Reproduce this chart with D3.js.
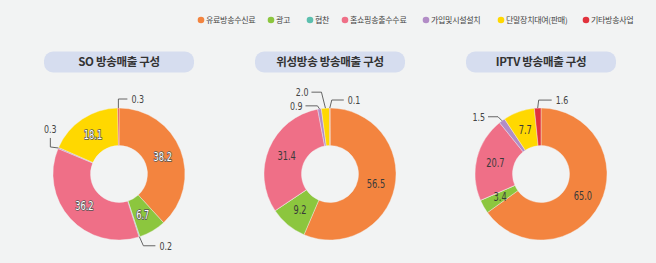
<!DOCTYPE html>
<html>
<head>
<meta charset="utf-8">
<script src="https://cdn.jsdelivr.net/npm/d3@7"></script>
<style>
  html, body { margin: 0; padding: 0; background: #f2f3f3; }
  #chart { width: 656px; height: 263px; }
</style>
</head>
<body>
<div id="chart"></div>
<script>
// 항목 / 색상
const categories = ['유료방송수신료', '광고', '협찬', '홈쇼핑송출수수료', '가입및시설설치', '단말장치대여(판매)', '기타방송사업'];
const colors = ['#f3843f', '#8cc63e', '#5cbfae', '#ef6f87', '#b28cc6', '#ffd800', '#e1323c'];

// 차트별 제목과 값 (%)
const chartTitles = ['SO 방송매출 구성', '위성방송 방송매출 구성', 'IPTV 방송매출 구성'];
const soValues = [38.2, 6.7, 0.2, 36.2, 0.3, 18.1, 0.3];
const satValues = [56.5, 9.2, 0, 31.4, 0.9, 2.0, 0.1];
const iptvValues = [65.0, 3.4, 0, 20.7, 1.5, 7.7, 1.6];

// 작은 조각의 지시선 모양 (bend: 첫 꺾임, end: 끝점, side: 글자 위치)
const leaders = [
  { 6: { bend: [0, -9], end: [9, 0], side: 'right' },
    4: { bend: [-8, -1], end: [0, -9], side: 'top' },
    2: { bend: [4, 9], end: [12, 0], side: 'right' } },
  { 6: { bend: [2, -8], end: [12, 0], side: 'right' },
    5: { bend: [-4, -16], end: [-10, 0], side: 'left' },
    4: { bend: [-2, -3], end: [-12, 0], side: 'left' } },
  { 6: { bend: [1, -8], end: [13, 0], side: 'right' },
    4: { bend: [-4, -4], end: [-10, 0], side: 'left' } },
];

const width = 656;
const height = 263;
const centers = [119, 330, 541]; // 각 도넛 중심 x
const cy = 174;
const outerR = 66;
const innerR = 28.5;
const narrow = 0.8; // 숫자 글꼴 가로 축소
const numFont = "'DejaVu Sans Condensed', 'Roboto', sans-serif";
const krFont = "'Noto Sans CJK KR', 'Noto Sans', sans-serif";

const svg = d3.select('#chart')
  .append('svg')
  .attr('width', width)
  .attr('height', height)
  .attr('viewBox', `0 0 ${width} ${height}`);

// 범례
const legendX = [201, 271, 310, 345, 426, 501, 586];
const legend = svg.append('g').attr('transform', 'translate(0, 20)');
const legendItem = legend.selectAll('g')
  .data(categories)
  .enter()
  .append('g')
  .attr('transform', (d, i) => `translate(${legendX[i]}, 0)`);
legendItem.append('circle')
  .attr('r', 3.3)
  .attr('fill', (d, i) => colors[i]);
legendItem.append('text')
  .attr('x', 5)
  .attr('dy', '0.35em')
  .text((d) => d)
  .style('font-family', krFont)
  .style('font-size', '8px')
  .style('letter-spacing', '-0.3px')
  .attr('fill', '#444');

const pie = d3.pie().sort(null).value((d) => d);
const arc = d3.arc().innerRadius(innerR).outerRadius(outerR);
const labelArc = d3.arc().innerRadius(47).outerRadius(47);
const edgeArc = d3.arc().innerRadius(outerR).outerRadius(outerR);

[soValues, satValues, iptvValues].forEach((values, ci) => {
  const cx = centers[ci];

  // 제목 pill
  const title = svg.append('g').attr('transform', `translate(${cx}, 62)`);
  title.append('rect')
    .attr('x', -75)
    .attr('y', -10.5)
    .attr('width', 150)
    .attr('height', 21)
    .attr('rx', 9)
    .attr('fill', '#d6ddef');
  title.append('text')
    .attr('text-anchor', 'middle')
    .attr('dy', '0.36em')
    .text(chartTitles[ci])
    .style('font-family', krFont)
    .style('font-size', '11.5px')
    .style('font-weight', 'bold')
    .style('letter-spacing', '-0.3px')
    .attr('fill', '#333');

  const g = svg.append('g').attr('transform', `translate(${cx}, ${cy})`);
  const arcs = pie(values);

  g.selectAll('path')
    .data(arcs)
    .enter()
    .append('path')
    .attr('d', arc)
    .attr('fill', (d, i) => colors[i])
    .attr('stroke', '#f2f3f3')
    .attr('stroke-width', 0.4);

  // 안쪽 값
  const inner = g.selectAll('text.inner')
    .data(arcs.filter((d) => d.value >= 3))
    .enter()
    .append('text')
    .attr('class', 'inner')
    .attr('transform', (d) => `translate(${labelArc.centroid(d)}) scale(${narrow}, 1)`)
    .attr('text-anchor', 'middle')
    .attr('dy', '0.36em')
    .text((d) => d.value.toFixed(1))
    .style('font-family', numFont)
    .style('font-size', '11.5px');
  if (ci === 0) {
    inner.attr('fill', '#fff')
      .attr('stroke', '#555')
      .attr('stroke-width', 1.5)
      .style('paint-order', 'stroke');
  } else {
    inner.attr('fill', '#3a3a3a');
  }

  // 작은 조각 지시선
  Object.keys(leaders[ci]).forEach((k) => {
    const d = arcs[+k];
    const l = leaders[ci][k];
    const p0 = edgeArc.centroid(d);
    const p1 = [p0[0] + l.bend[0], p0[1] + l.bend[1]];
    const p2 = [p1[0] + l.end[0], p1[1] + l.end[1]];
    g.append('path')
      .attr('d', d3.line()([p0, p1, p2]))
      .attr('fill', 'none')
      .attr('stroke', '#555')
      .attr('stroke-width', 0.9);
    let tx = p2[0];
    let ty = p2[1];
    let anchor = 'start';
    if (l.side === 'right') {
      tx += 4;
    } else if (l.side === 'left') {
      tx -= 3;
      anchor = 'end';
    } else {
      ty -= 9;
      anchor = 'middle';
    }
    g.append('text')
      .attr('transform', `translate(${tx}, ${ty}) scale(${narrow}, 1)`)
      .attr('text-anchor', anchor)
      .attr('dy', '0.36em')
      .text(d.value.toFixed(1))
      .style('font-family', numFont)
      .style('font-size', '11px')
      .attr('fill', '#444');
  });
});
</script>
</body>
</html>
